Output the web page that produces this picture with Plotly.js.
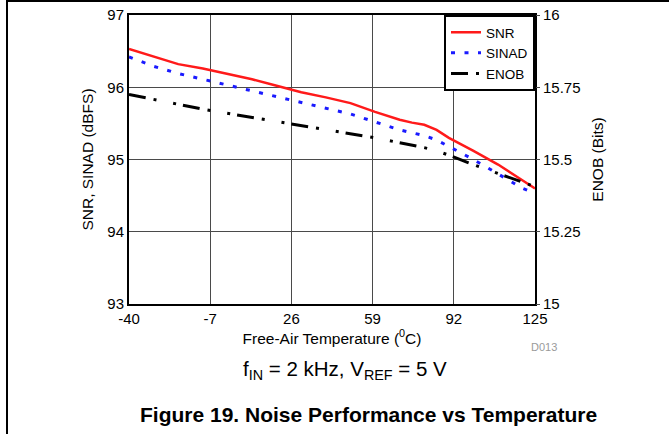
<!DOCTYPE html>
<html>
<head>
<meta charset="utf-8">
<script src="https://cdn.plot.ly/plotly-3.0.1.min.js"></script>
<style>
html,body{margin:0;padding:0;background:#fff;}
#chart{width:669px;height:434px;}
</style>
</head>
<body>
<div id="chart"></div>
<script>
// ---- data ----
var temps = [-40,-30,-20,-10,0,10,20,30,40,50,60,70,75,80,85,90,100,110,120,125];
var snr   = [96.53,96.42,96.32,96.26,96.19,96.11,96.02,95.93,95.86,95.78,95.66,95.55,95.51,95.48,95.41,95.30,95.12,94.93,94.71,94.60];
var sinad = [96.42,96.29,96.19,96.11,96.04,95.96,95.87,95.79,95.71,95.63,95.52,95.41,95.37,95.33,95.27,95.18,95.00,94.80,94.60,94.53];
var enob  = [15.725,15.707,15.691,15.674,15.660,15.646,15.632,15.617,15.603,15.589,15.575,15.558,15.550,15.541,15.530,15.515,15.482,15.452,15.423,15.406];
var xTicks = [-40,-7,26,59,92,125];
var yTicks = [93,94,95,96,97];
var y2Ticks = [15,15.25,15.5,15.75,16];
var y2TickText = ['15','15.25','15.5','15.75','16'];

// ---- layout geometry ----
var W = 669, H = 434;
var M = {l:129, r:134, t:15, b:130};
var pw = W - M.l - M.r, ph = H - M.t - M.b;
function px(x){ return (x - M.l)/pw; }
function py(y){ return (H - M.b - y)/ph; }

var FONT = 'Arial, "Liberation Sans", Helvetica, sans-serif';
var gridCol = '#4a4a4a';

var traces = [
  {x:temps, y:snr, name:'SNR', type:'scatter', mode:'lines',
   line:{color:'#ff1a1a', width:2.5}},
  {x:temps, y:sinad, name:'SINAD', type:'scatter', mode:'lines',
   line:{color:'#1a1aff', width:3, dash:'4px,9.5px'}},
  {x:temps, y:enob, name:'ENOB', type:'scatter', mode:'lines', yaxis:'y2',
   line:{color:'#000000', width:3, dash:'17px,8px,3px,17px,3px,7px'}}
];

var layout = {
  width:W, height:H,
  margin:M,
  paper_bgcolor:'#fff', plot_bgcolor:'#fff',
  font:{family:FONT, size:15, color:'#000'},
  showlegend:true,
  legend:{x:1, xanchor:'right', y:1, yanchor:'top',
          bgcolor:'#fff', bordercolor:'#000', borderwidth:2,
          font:{family:FONT, size:13.5, color:'#000'},
          tracegroupgap:0, itemwidth:30},
  xaxis:{range:[-40,125], tickvals:xTicks, ticktext:xTicks.map(String),
         showgrid:true, gridcolor:gridCol, gridwidth:1, zeroline:false,
         showline:true, linecolor:'#000', linewidth:2, mirror:true,
         ticks:'', tickfont:{size:15},
         title:{text:'Free-Air Temperature (<sup>0</sup>C)', font:{size:15.5}, standoff:1}},
  yaxis:{range:[93,97], tickvals:yTicks, ticktext:yTicks.map(String),
         showgrid:true, gridcolor:gridCol, gridwidth:1, zeroline:false,
         showline:true, linecolor:'#000', linewidth:2, mirror:true,
         ticks:'', tickfont:{size:15},
         title:{text:'SNR, SINAD (dBFS)', font:{size:15.5}, standoff:10}},
  yaxis2:{range:[15,16], tickvals:y2Ticks, ticktext:y2TickText, overlaying:'y', side:'right',
          showgrid:false, zeroline:false, showline:false,
          ticks:'outside', ticklen:4, tickcolor:gridCol, tickfont:{size:15},
          title:{text:'ENOB (Bits)', font:{size:15.5}, standoff:12}},
  annotations:[
    {xref:'paper', yref:'paper', x:px(544), y:py(347), text:'D013', showarrow:false,
     font:{size:11, color:'#9a9a9a'}, xanchor:'center', yanchor:'middle'},
    {xref:'paper', yref:'paper', x:px(345), y:py(370), text:'f<sub>IN</sub> = 2 kHz, V<sub>REF</sub> = 5 V',
     showarrow:false, font:{size:20.5, color:'#000'}, xanchor:'center', yanchor:'middle'},
    {xref:'paper', yref:'paper', x:px(368), y:py(415), text:'<b>Figure 19. Noise Performance vs Temperature</b>',
     showarrow:false, font:{size:21, color:'#000'}, xanchor:'center', yanchor:'middle'}
  ],
  shapes:[
    {type:'line', xref:'paper', yref:'paper', x0:px(7), x1:px(669), y0:py(1), y1:py(1),
     line:{color:'#000', width:2}},
    {type:'line', xref:'paper', yref:'paper', x0:px(7), x1:px(7), y0:py(0), y1:py(434),
     line:{color:'#000', width:2}}
  ]
};

Plotly.newPlot('chart', traces, layout, {displayModeBar:false, staticPlot:true});
</script>
</body>
</html>
